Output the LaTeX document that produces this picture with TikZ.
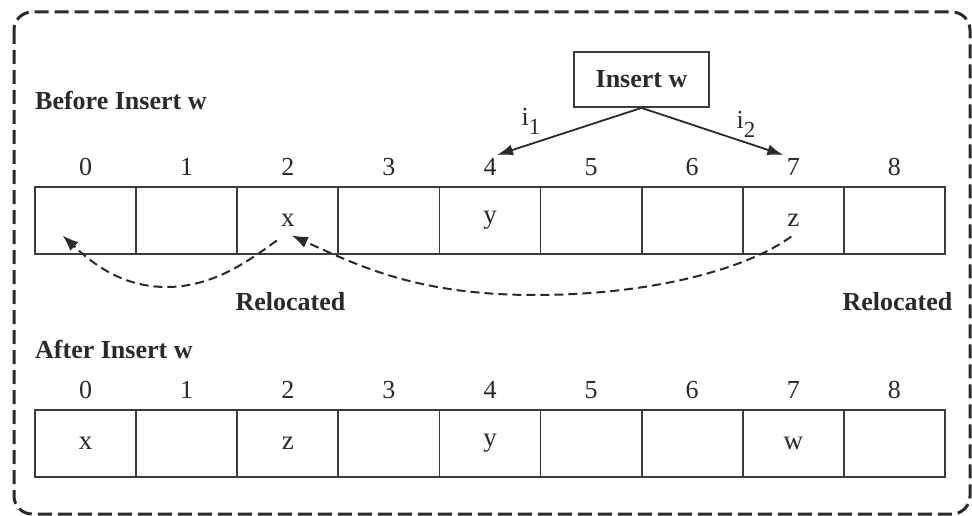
\documentclass[tikz,border=0pt]{standalone}
\usepackage{fontspec}
\setmainfont{Liberation Serif}
\usetikzlibrary{arrows.meta,calc}
\definecolor{ink}{HTML}{2A2A2A}
\definecolor{rule}{HTML}{3C3C3C}
\begin{document}
\begin{tikzpicture}[x=1pt,y=-1pt,
  cell/.style={draw=rule,line width=1.8pt,minimum width=101.1pt,minimum height=67pt,inner sep=0pt,
    text=ink,font=\fontsize{27}{30}\selectfont},
  idx/.style={text=ink,inner sep=0pt,font=\fontsize{26}{30}\selectfont},
  heading/.style={text=ink,inner sep=0pt,font=\fontsize{26}{30}\selectfont\bfseries},
  move/.style={draw=ink,line width=2pt,dash pattern=on 9pt off 5pt,
    -{Latex[length=16pt,width=12pt]}},
  point/.style={draw=ink,line width=1.8pt,-{Latex[length=16pt,width=11pt]}},
  frame/.style={draw=ink,line width=3pt,dash pattern=on 14pt off 6pt,rounded corners=18pt}]

\useasboundingbox[fill=white] (0,0) rectangle (972,516);
\draw[frame] (14,12) rectangle (970,514);

% before insertion
\node[heading,anchor=west] (hb) at (35,100) {Before Insert w};
\foreach \i/\t in {0/,1/,2/x,3/,4/y,5/,6/,7/z,8/} {
  \node[cell] (a\i) at (85.6+101.1*\i,220.5) {\t};
  \node[idx] (l\i) at (85.6+101.1*\i,167) {\i};
}

% insertion request and its two candidate slots
\node[draw=rule,line width=1.8pt,minimum width=135pt,minimum height=55pt,inner sep=0pt,
  text=ink,font=\fontsize{26}{30}\selectfont\bfseries] (ins) at (641.5,79.5) {Insert w};
\draw[point] (ins.south) -- ($(l4)+(7,-12)$);
\draw[point] (ins.south) -- ($(l7)+(-10,-12)$);
\node[idx] (i1) at (531,121) {i\raisebox{-9pt}{\fontsize{23}{26}\selectfont 1}};
\node[idx] (i2) at (746,124) {i\raisebox{-9pt}{\fontsize{23}{26}\selectfont 2}};

% relocations
\coordinate (d1) at ($(a1)+(-20,66.5)$);
\coordinate (d2) at ($(a4)+(45,74.5)$);
\draw[move] ($(a2)+(-11,20)$) .. controls +(-30,22) and +(45,0) .. (d1)
  .. controls +(-45,0) and +(30,28) .. ($(a0)+(-23,15)$);
\draw[move] ($(a7)+(-2,16)$) .. controls +(-45,33) and +(115,0) .. (d2)
  .. controls +(-115,0) and +(70,32) .. ($(a2)+(4,15)$);
\node[heading] (r1) at (290.5,302) {Relocated};
\node[heading] (r2) at (897.5,302) {Relocated};

% after insertion
\node[heading,anchor=west] (ha) at (35,349) {After Insert w};
\foreach \i/\t in {0/x,1/,2/z,3/,4/y,5/,6/,7/w,8/} {
  \node[cell] (b\i) at (85.6+101.1*\i,443.5) {\t};
  \node[idx] (m\i) at (85.6+101.1*\i,390) {\i};
}
\end{tikzpicture}
\end{document}
